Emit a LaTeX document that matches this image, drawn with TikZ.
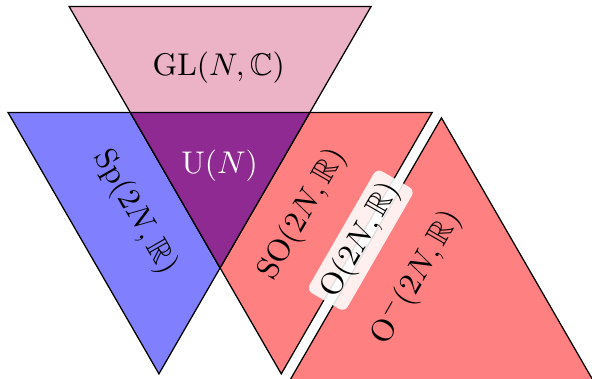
\documentclass[tikz,border=0pt]{standalone}
\usepackage{amsmath,amssymb}
\usepackage{tikz}
\definecolor{unitary}{RGB}{142,42,146}

\begin{document}
\begin{tikzpicture}[
    grp/.style={draw=black, line width=0.4pt, line join=miter},
    lbl/.style={inner sep=1pt}]
    \useasboundingbox (0,0) rectangle (6.63,4.24);
    \draw[grp, fill=blue!50] (0.09,2.98) -- (3.47,2.98) -- (1.78,0.053) -- cycle;
    \draw[grp, fill=red!50] (1.46,2.98) -- (4.84,2.98) -- (3.15,0.053) -- cycle;
    \draw[grp, fill=red!50] (4.944,2.92) -- (6.659,-0.05) -- (3.229,-0.05) -- cycle;
    \draw[grp, fill=purple!30] (0.775,4.166) -- (4.155,4.166) -- (2.465,1.239) -- cycle;
    \draw[grp, fill=unitary] (1.46,2.98) -- (3.47,2.98) -- (2.465,1.239) -- cycle;
    \node[lbl] (gl) at (2.45,3.48) {$\mathrm{GL}(N,\mathbb{C})$};
    \node[lbl, text=white] (u) at (2.46,2.38) {$\mathrm{U}(N)$};
    \node[lbl, rotate=-60] (sp) at (1.51,1.86) {$\mathrm{Sp}(2N,\mathbb{R})$};
    \node[lbl, rotate=60] (so) at (3.39,1.84) {$\mathrm{SO}(2N,\mathbb{R})$};
    \node[lbl, rotate=60, inner sep=2pt, fill=white, fill opacity=0.88, text opacity=1, rounded corners=2pt] (o) at (4.04,1.55) {$\mathrm{O}(2N,\mathbb{R})$};
    \node[lbl, rotate=60] (om) at (4.66,1.13) {$\mathrm{O}^-(2N,\mathbb{R})$};
\end{tikzpicture}
\end{document}
